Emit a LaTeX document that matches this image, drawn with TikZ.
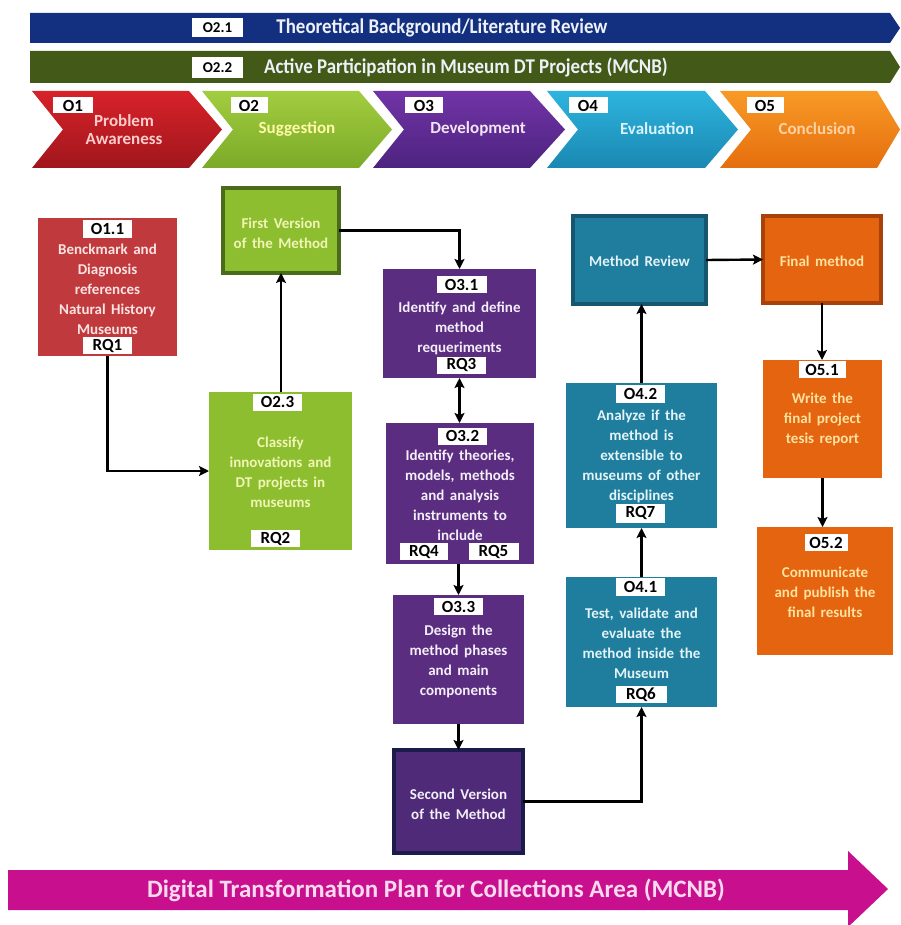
\documentclass[tikz,border=0pt]{standalone}
\usepackage{fontspec}
\setmainfont{Carlito}
\newfontfamily\barfont[FakeStretch=0.9]{Carlito}
\newcommand\myWideSpace{\spaceskip 5.5pt plus 1pt minus 1pt\relax}
\usetikzlibrary{arrows.meta,calc}
\definecolor{barblue}{HTML}{12307F}
\definecolor{barolive}{HTML}{425917}
\definecolor{boxred}{HTML}{C0393C}
\definecolor{boxgreen}{HTML}{8DBE2F}
\definecolor{fvborder}{HTML}{4C6A1C}
\definecolor{boxpurple}{HTML}{5A2D80}
\definecolor{svfill}{HTML}{4E2A78}
\definecolor{svborder}{HTML}{1B1C4C}
\definecolor{boxteal}{HTML}{1F7E9E}
\definecolor{mrborder}{HTML}{16576F}
\definecolor{boxorange}{HTML}{E5640F}
\definecolor{fmborder}{HTML}{A8420A}
\definecolor{magentabar}{HTML}{C8108E}
\definecolor{tred}{HTML}{FBE3E3}
\definecolor{tgreen}{HTML}{F0F5B5}
\definecolor{tpurple}{HTML}{F3EEF8}
\definecolor{tteal}{HTML}{E3F3F8}
\definecolor{torange}{HTML}{FFE2A0}
\definecolor{tbar}{HTML}{EEF0F8}
\definecolor{chredT}{HTML}{D8222A}
\definecolor{chredB}{HTML}{A0161C}
\definecolor{chgreenT}{HTML}{A3CD40}
\definecolor{chgreenB}{HTML}{7BAA28}
\definecolor{chpurpleT}{HTML}{7134A6}
\definecolor{chpurpleB}{HTML}{4D2380}
\definecolor{chcyanT}{HTML}{2DB4DE}
\definecolor{chcyanB}{HTML}{1A88B2}
\definecolor{chorangeT}{HTML}{F89A26}
\definecolor{chorangeB}{HTML}{E56E0E}
\tikzset{
  blk/.style={rectangle, inner sep=0pt, outer sep=0pt},
  lbl/.style={rectangle, fill=white, minimum width=49pt, minimum height=17pt, inner sep=0pt, outer sep=0pt, font=\bfseries\fontsize{17}{18}\selectfont, text=black},
  txt/.style={align=center, inner sep=0pt, font=\bfseries\fontsize{15}{20}\selectfont\myWideSpace},
  chevtxt/.style={align=center, inner sep=0pt, font=\bfseries\fontsize{17}{18}\selectfont},
  bartxt/.style={text=tbar, inner sep=0pt, font=\barfont\bfseries\fontsize{21}{22}\selectfont},
  conn/.style={line width=2.4pt, -{Stealth[length=10pt,width=10pt,inset=2pt]}},
  bothconn/.style={line width=2.4pt, {Stealth[length=10pt,width=10pt,inset=2pt]}-{Stealth[length=10pt,width=10pt,inset=2pt]}},
}
\begin{document}
\begin{tikzpicture}[x=1pt,y=-1pt]
\useasboundingbox (0,0) rectangle (900,925);
\fill[white] (0,0) rectangle (900,925);

% top bars
\fill[barblue] (30,13) -- (890,13) -- (900,28) -- (890,43) -- (30,43) -- cycle;
\fill[barolive] (30,51) -- (890,51) -- (900,67) -- (890,83) -- (30,83) -- cycle;
\node[lbl, minimum width=51pt, minimum height=19pt, font=\bfseries\fontsize{15}{16}\selectfont] (l21) at (217.5,27.5) {O2.1};
\node[bartxt] (t21) at (442,28) {Theoretical Background/Literature Review};
\node[lbl, minimum width=51pt, minimum height=21pt, font=\bfseries\fontsize{15}{16}\selectfont] (l22) at (217.5,67.5) {O2.2};
\node[bartxt] (t22) at (466,67) {Active Participation in Museum DT Projects (MCNB)};

% chevrons
\shade[top color=chredT, bottom color=chredB] (32,91) -- (189,91) -- (222,129.5) -- (189,168) -- (32,168) -- (63,129.5) -- cycle;
\shade[top color=chgreenT, bottom color=chgreenB] (202,91) -- (359,91) -- (392,129.5) -- (359,168) -- (202,168) -- (233,129.5) -- cycle;
\shade[top color=chpurpleT, bottom color=chpurpleB] (373,91) -- (530,91) -- (565,129.5) -- (530,168) -- (373,168) -- (404,129.5) -- cycle;
\shade[top color=chcyanT, bottom color=chcyanB] (547,91) -- (705,91) -- (738,129.5) -- (705,168) -- (547,168) -- (578,129.5) -- cycle;
\shade[top color=chorangeT, bottom color=chorangeB] (720,91) -- (877,91) -- (900,129.5) -- (877,168) -- (720,168) -- (751,129.5) -- cycle;
\node[lbl, minimum width=40pt, minimum height=16pt] (c1) at (73,105.5) {O1};
\node[lbl, minimum width=37pt, minimum height=16pt] (c2) at (249,105.5) {O2};
\node[lbl, minimum width=38pt, minimum height=16pt] (c3) at (424,105.5) {O3};
\node[lbl, minimum width=39pt, minimum height=16pt] (c4) at (588,105.5) {O4};
\node[lbl, minimum width=37pt, minimum height=16pt] (c5) at (765,105.5) {O5};
\node[chevtxt, text=red!20!white] (ct1) at (124,130) {Problem\\Awareness};
\node[chevtxt, text=yellow!35!white] (ct2) at (297,129) {Suggestion};
\node[chevtxt, text=violet!10!white] (ct3) at (478,129) {Development};
\node[chevtxt, text=cyan!15!white] (ct4) at (657,129) {Evaluation};
\node[chevtxt, text=orange!35!white] (ct5) at (817,129) {Conclusion};

% boxes
\node[blk, fill=boxred, minimum width=139pt, minimum height=138pt] (O11) at (107.5,287) {};
\node[lbl] (O11l) at (107.5,229) {O1.1};
\node[txt, text=tred] (O11t) at (107.5,289) {Benckmark and\\Diagnosis\\references\\Natural History\\Museums};
\node[lbl] (RQ1) at (107.5,345.5) {RQ1};

\node[blk, fill=boxgreen, draw=fvborder, line width=4pt, minimum width=116pt, minimum height=85pt] (FV) at (281,230.5) {};
\node[txt, text=tgreen] (FVt) at (281,233) {First Version\\of the Method};

\node[blk, fill=boxgreen, minimum width=143pt, minimum height=158pt] (O23) at (280.5,471) {};
\node[lbl] (O23l) at (277.5,402) {O2.3};
\node[txt, text=tgreen] (O23t) at (280.5,472) {Classify\\innovations and\\DT projects in\\museums};
\node[lbl] (RQ2) at (275.5,538.5) {RQ2};

\node[blk, fill=boxpurple, minimum width=153pt, minimum height=109pt] (O31) at (459.5,323.5) {};
\node[lbl, minimum width=50pt] (O31l) at (461.5,284.5) {O3.1};
\node[txt, text=tpurple] (O31t) at (459.5,328) {Identify and define\\method\\requeriments};
\node[lbl] (RQ3) at (461.5,365) {RQ3};

\node[blk, fill=boxpurple, minimum width=148pt, minimum height=141pt] (O32) at (460,493.5) {};
\node[lbl] (O32l) at (462.5,436) {O3.2};
\node[txt, text=tpurple] (O32t) at (460,495) {Identify theories,\\models, methods\\and analysis\\instruments to\\include};
\node[lbl, minimum width=48pt] (RQ4) at (424,551.5) {RQ4};
\node[lbl, minimum width=50pt] (RQ5) at (493.5,551.5) {RQ5};

\node[blk, fill=boxpurple, minimum width=131pt, minimum height=129pt] (O33) at (458.5,659.5) {};
\node[lbl] (O33l) at (458.5,606.5) {O3.3};
\node[txt, text=tpurple] (O33t) at (458.5,661) {Design the\\method phases\\and main\\components};

\node[blk, fill=svfill, draw=svborder, line width=4pt, minimum width=129pt, minimum height=103pt] (SV) at (458.5,801.5) {};
\node[txt, text=tpurple] (SVt) at (458.5,804) {Second Version\\of the Method};

\node[blk, fill=boxteal, draw=mrborder, line width=4pt, minimum width=133pt, minimum height=88pt] (MR) at (639.5,260) {};
\node[txt, text=tteal] (MRt) at (639.5,261) {Method Review};

\node[blk, fill=boxorange, draw=fmborder, line width=4pt, minimum width=118pt, minimum height=87pt] (FM) at (822,259.5) {};
\node[txt, text=torange] (FMt) at (822,261) {Final method};

\node[blk, fill=boxteal, minimum width=151pt, minimum height=145pt] (O42) at (641.5,455.5) {};
\node[lbl, minimum height=18pt] (O42l) at (640.5,394) {O4.2};
\node[txt, text=tteal] (O42t) at (641.5,456) {Analyze if the\\method is\\extensible to\\museums of other\\disciplines};
\node[lbl, minimum height=19pt] (RQ7) at (640.5,513) {RQ7};

\node[blk, fill=boxteal, minimum width=151pt, minimum height=130pt] (O41) at (641.5,642) {};
\node[lbl, minimum height=18pt] (O41l) at (640.5,586.5) {O4.1};
\node[txt, text=tteal] (O41t) at (641.5,643) {Test, validate and\\evaluate the\\method inside the\\Museum};
\node[lbl, minimum width=51pt] (RQ6) at (641,694.5) {RQ6};

\node[blk, fill=boxorange, minimum width=119pt, minimum height=118pt] (O51) at (822.5,419) {};
\node[lbl, minimum width=47pt] (O51l) at (822,369.5) {O5.1};
\node[txt, text=torange] (O51t) at (822.5,419) {Write the\\final project\\tesis report};

\node[blk, fill=boxorange, minimum width=136pt, minimum height=128pt] (O52) at (825,591) {};
\node[lbl, minimum width=43pt] (O52l) at (826,542.5) {O5.2};
\node[txt, text=torange] (O52t) at (825,592) {Communicate\\and publish the\\final results};

% connectors
\draw[conn] (O11.south) |- (O23.west);
\draw[conn] (O23.north -| FV.south) -- (FV.south);
\draw[conn] (FV.east) -| (O31.north);
\draw[bothconn] (O31.south) -- (O31.south |- O32.north);
\draw[conn] (O32.south -| O33.north) -- (O33.north);
\draw[conn] (O33.south) -- (O33.south |- SV.north);
\draw[conn] (SV.east) -| (O41.south);
\draw[conn] (O41.north) -- (O42.south);
\draw[conn] (O42.north) -- (O42.north |- MR.south);
\draw[conn] (MR.east) -- (FM.west);
\draw[conn] (FM.south) -- (FM.south |- O51.north);
\draw[conn] (O51.south) -- (O51.south |- O52.north);

% bottom arrow
\fill[magentabar] (8,870) -- (848,870) -- (848,851) -- (888,889) -- (848,927) -- (848,910) -- (8,910) -- cycle;
\node[text=magenta!15!white, inner sep=0pt, font=\bfseries\fontsize{25}{26}\selectfont] (bt) at (436,890) {Digital Transformation Plan for Collections Area (MCNB)};
\end{tikzpicture}
\end{document}
